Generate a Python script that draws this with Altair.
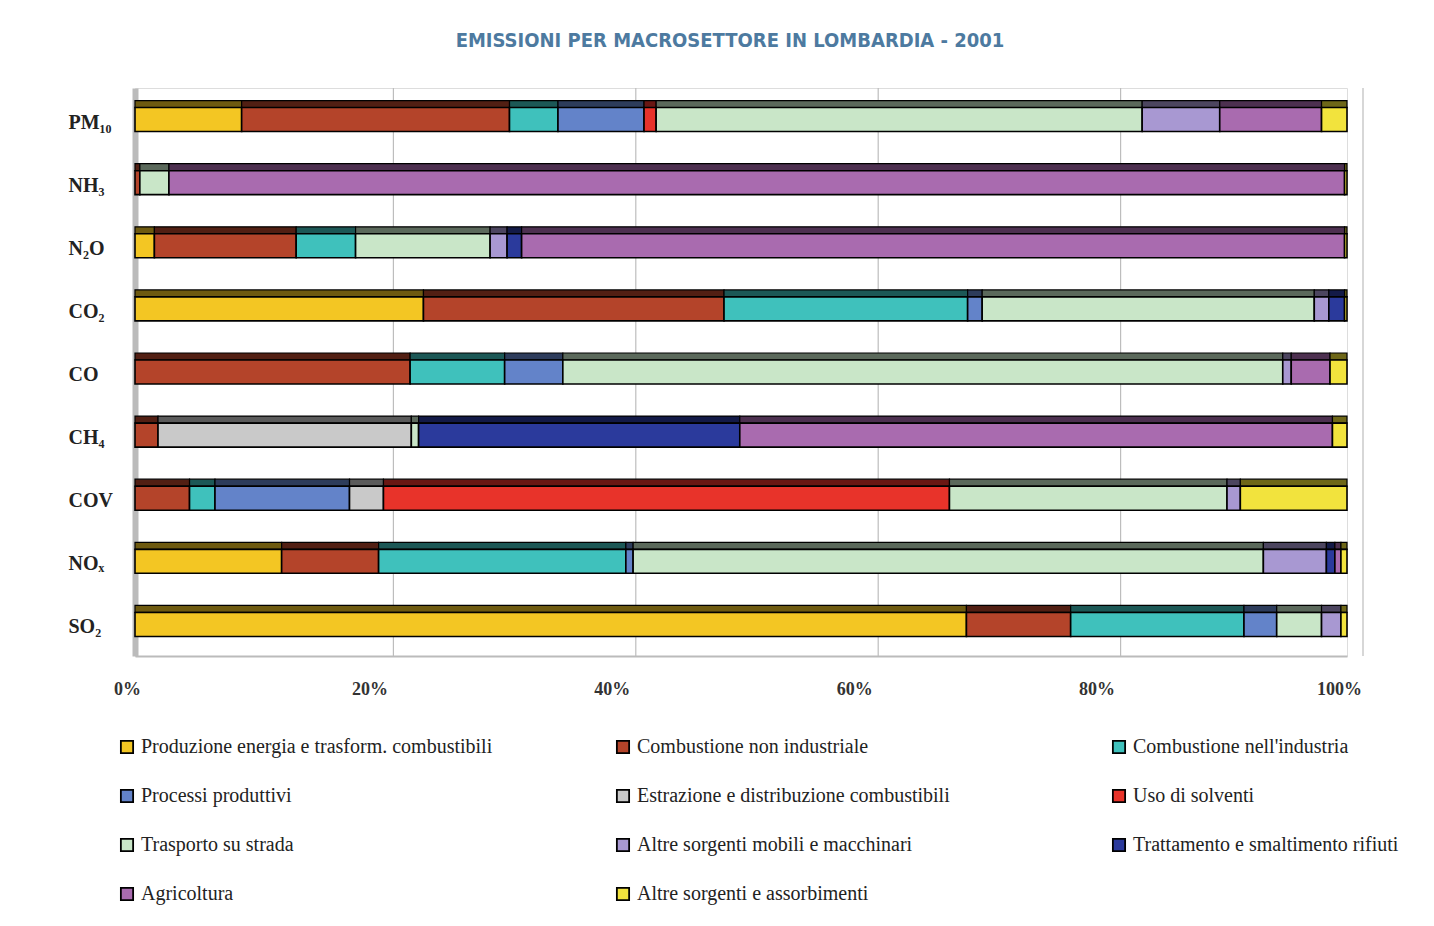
import altair as alt
import pandas as pd

sectors = [
    "Produzione energia e trasform. combustibili",
    "Combustione non industriale",
    "Combustione nell'industria",
    "Processi produttivi",
    "Estrazione e distribuzione combustibili",
    "Uso di solventi",
    "Trasporto su strada",
    "Altre sorgenti mobili e macchinari",
    "Trattamento e smaltimento rifiuti",
    "Agricoltura",
    "Altre sorgenti e assorbimenti",
]
colors = ["#F3C623", "#B4442A", "#3FC1BC", "#6383C9", "#C9C9C9", "#E8332A",
          "#C9E6C8", "#A898D2", "#2B3A9C", "#A96BAF", "#F2E33D"]
dark = ["#6E5A10", "#521F13", "#1C5856", "#2D3C5B", "#5B5B5B", "#6A1713",
        "#5B695B", "#4C455F", "#131A47", "#4D3050", "#6E6718"]

categories = ["PM₁₀", "NH₃", "N₂O", "CO₂", "CO", "CH₄", "COV", "NOₓ", "SO₂"]

pm10 = [8.8, 22.1, 4.0, 7.1, 0, 1.0, 40.1, 6.4, 0, 8.4, 2.1]
nh3 = [0, 0.4, 0, 0, 0, 0, 2.4, 0, 0, 97.0, 0.2]
n2o = [1.6, 11.7, 4.9, 0, 0, 0, 11.1, 1.4, 1.2, 67.9, 0.2]
co2 = [23.8, 24.8, 20.1, 1.2, 0, 0, 27.4, 1.2, 1.3, 0, 0.2]
co = [0, 22.7, 7.8, 4.8, 0, 0, 59.4, 0.7, 0, 3.2, 1.4]
ch4 = [0, 1.9, 0, 0, 20.9, 0, 0.6, 0, 26.5, 48.9, 1.2]
cov = [0, 4.5, 2.1, 11.1, 2.8, 46.7, 22.9, 1.1, 0, 0, 8.8]
nox = [12.1, 8.0, 20.4, 0.6, 0, 0, 52.0, 5.2, 0.7, 0.5, 0.5]
so2 = [68.6, 8.6, 14.3, 2.7, 0, 0, 3.7, 1.6, 0, 0, 0.5]

series = [pm10, nh3, n2o, co2, co, ch4, cov, nox, so2]

rows = []
for cat, vals in zip(categories, series):
    for i, (s, v) in enumerate(zip(sectors, vals)):
        if v > 0:
            rows.append({"cat": cat, "sector": s, "order": i, "value": v,
                         "dark": dark[i]})
df = pd.DataFrame(rows)

grid_vals = [0.2, 0.4, 0.6, 0.8, 1.0]
grid_df = pd.DataFrame({"g": grid_vals})

serif = "Liberation Serif"

y_enc = alt.Y("cat:N", sort=categories, title=None,
              scale=alt.Scale(paddingInner=0.62),
              axis=alt.Axis(labelFont=serif, labelFontSize=20, labelFontWeight="bold",
                            labelColor="#222", labelAlign="left", labelPadding=67,
                            labelBaseline="middle", labelOffset=3,
                            ticks=False, domain=True, domainColor="#BBBBBB",
                            domainWidth=6))

x_axis = alt.Axis(values=[0, 0.2, 0.4, 0.6, 0.8, 1.0], format=".0%", labelFont=serif,
                  labelFontSize=18, labelFontWeight="bold", labelColor="#333",
                  labelFlush=False, labelOffset=-8,
                  ticks=False, labelPadding=24, grid=False, domainColor="#BBBBBB",
                  domainWidth=2)

gridlines = alt.Chart(grid_df).mark_rule(color="#BDBDBD", strokeWidth=1.2, xOffset=16).encode(
    x=alt.X("g:Q")
)

bars = alt.Chart(df).mark_bar(stroke="black", strokeWidth=1.6).encode(
    x=alt.X("value:Q", stack="normalize", title=None, axis=x_axis,
            scale=alt.Scale(domain=[0, 1], nice=False)),
    y=y_enc,
    color=alt.Color("sector:N", sort=sectors,
                    scale=alt.Scale(domain=sectors, range=colors),
                    legend=alt.Legend(orient="none", legendX=-18, legendY=649,
                                      direction="horizontal",
                                      columns=3, gridAlign="all", columnPadding=120,
                                      rowPadding=29, title=None, symbolType="square",
                                      symbolSize=150, symbolStrokeColor="black",
                                      symbolStrokeWidth=1.8, labelFont=serif,
                                      labelFontSize=20, labelColor="#222",
                                      labelOffset=4, labelLimit=500)),
    order=alt.Order("order:Q"),
)

tops = alt.Chart(df).mark_bar(stroke="black", strokeWidth=1.2, height=7, yOffset=-15.5).encode(
    x=alt.X("value:Q", stack="normalize"),
    y=alt.Y("cat:N", sort=categories),
    color=alt.Color("dark:N", scale=None),
    order=alt.Order("order:Q"),
)

chart = alt.layer(gridlines, tops, bars).properties(
    width=1212,
    height=568,
    padding={"left": 127, "top": 80, "right": 79, "bottom": 255},
    autosize=alt.AutoSizeParams(type="none"),
    title=alt.Title("EMISSIONI PER MACROSETTORE IN LOMBARDIA  - 2001",
                    font="DejaVu Sans Condensed, Roboto, sans-serif", fontSize=20,
                    fontWeight="bold",
                    color="#4D7AA0", anchor="middle", dx=-11, offset=36),
).configure_view(stroke=None).configure(background="white")

chart.save("out.html", embed_options={"renderer": "svg", "actions": False})
